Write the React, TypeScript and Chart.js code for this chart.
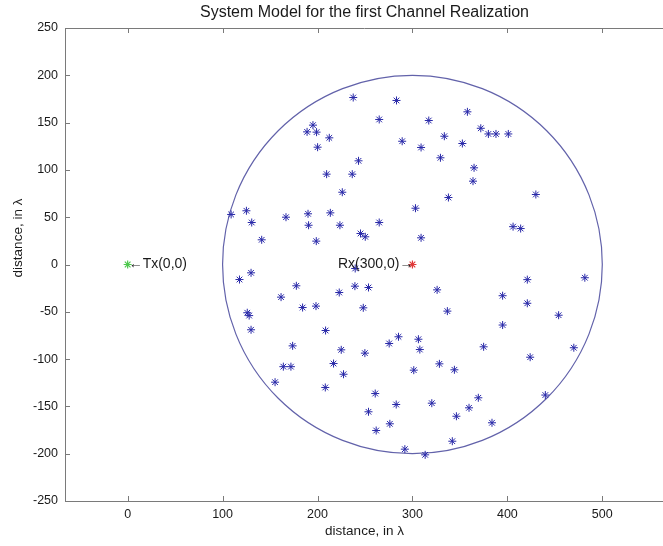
import React, { useEffect, useRef } from "react";
import { Chart, registerables } from "chart.js";

Chart.register(...registerables);

const TITLE = "System Model for the first Channel Realization";
const X_LABEL = "distance, in λ";
const Y_LABEL = "distance, in λ";
const X_MIN = -66;
const X_MAX = 565;
const Y_MIN = -250;
const Y_MAX = 250;
const X_TICKS = [0, 100, 200, 300, 400, 500];
const Y_TICKS = [-250, -200, -150, -100, -50, 0, 50, 100, 150, 200, 250];

const SCATTER_X = [
  237.6, 283.2, 357.9, 265, 317.2, 195.2, 189, 199, 212.4, 200.1,
  289.2, 309.1, 333.6, 352.6, 329.5, 243.2, 209.6, 236.6, 364.9, 363.8,
  226.1, 303.2, 337.9, 166.8, 190, 213.5, 190.6, 223.6, 265, 109,
  125.1, 130.7, 141.2, 130, 117.8, 177.7, 161.6, 126, 128, 130,
  173.8, 164, 172, 245.3, 250.3, 198.7, 309.1, 239.7, 222.9, 239.4,
  253.7, 326, 184.3, 198.4, 248.2, 336.8, 208.5, 225, 249.9, 275.5,
  285.3, 306.3, 307.8, 375, 216.9, 328.4, 301.4, 155.3, 208.2, 227.4,
  344.2, 260.8, 253.7, 282.9, 320.4, 369.4, 359.6, 346.3, 383.8, 276.2,
  261.8, 342, 292, 313.4, 481.6, 454, 470, 430, 406, 414,
  421, 421, 395, 395, 424, 440, 372, 380, 388, 401,
];
const SCATTER_Y = [
  176.5, 173.4, 161.4, 153.3, 152.2, 147.3, 140.2, 139.9, 133.9, 124,
  130.3, 123.7, 135.6, 127.9, 112.8, 109.6, 95.5, 95.5, 102.2, 88.1,
  76.4, 59.5, 70.8, 50, 53.6, 54.6, 41.5, 41.5, 44.4, 52.9,
  56.8, 44.4, 26.1, -8.8, -15.9, -22.5, -34.5, -51, -54, -69,
  -86, -108, -108, 32.8, 29.3, 24.7, 28.2, -4.2, -29.6, -22.9,
  -24.3, -26.8, -45.5, -44, -45.8, -49.3, -69.8, -90.2, -93.7, -83.5,
  -76.4, -79, -89.9, -87, -104.7, -105, -111.7, -124.4, -130, -116,
  -111.3, -136.4, -155.7, -148, -146.6, -140.9, -151.5, -160.4, -167.3, -168.4,
  -175.5, -186.8, -195.2, -201.2, -14, -53.6, -88, 74, 40, 38,
  -16, -41, -33, -64, -98, -138, 144, 138, 138, 138,
];

const TX_POS = [0, 0];
const RX_POS = [300, 0];
const TX_LABEL = "\u2190Tx(0,0)";
const RX_LABEL = "Rx(300,0)\u2192";
const CIRCLE_CENTER = [300, 0];
const CIRCLE_RADIUS = 200;

const FONT = "'Liberation Sans', Arial, sans-serif";
const AXIS_COLOR = "#7a7a7a";
const TEXT_COLOR = "#1a1a1a";

export default function App() {
  const canvasRef = useRef<HTMLCanvasElement | null>(null);

  useEffect(() => {
    const canvas = canvasRef.current;
    if (!canvas) return;

    const decor = {
      id: "decor",
      beforeDatasetsDraw(chart: any) {
        const { ctx, scales } = chart;
        const xs = scales.x;
        const ys = scales.y;
        const cx = xs.getPixelForValue(CIRCLE_CENTER[0]);
        const cy = ys.getPixelForValue(CIRCLE_CENTER[1]);
        const rx = Math.abs(xs.getPixelForValue(CIRCLE_CENTER[0] + CIRCLE_RADIUS) - cx);
        const ry = Math.abs(ys.getPixelForValue(CIRCLE_CENTER[1] + CIRCLE_RADIUS) - cy);
        ctx.save();
        ctx.beginPath();
        ctx.ellipse(cx, cy, rx, ry, 0, 0, Math.PI * 2);
        ctx.strokeStyle = "#6262aa";
        ctx.lineWidth = 1.2;
        ctx.stroke();
        ctx.restore();
      },
      afterDatasetsDraw(chart: any) {
        const { ctx, scales } = chart;
        const xs = scales.x;
        const ys = scales.y;
        ctx.save();
        ctx.font = `14px ${FONT}`;
        ctx.fillStyle = TEXT_COLOR;
        ctx.textBaseline = "middle";
        ctx.textAlign = "left";
        ctx.fillText(TX_LABEL, xs.getPixelForValue(TX_POS[0]) + 1, ys.getPixelForValue(TX_POS[1]));
        ctx.textAlign = "right";
        ctx.fillText(RX_LABEL, xs.getPixelForValue(RX_POS[0]) + 1, ys.getPixelForValue(RX_POS[1]));
        ctx.restore();
      },
      afterDraw(chart: any) {
        const { ctx, chartArea, scales } = chart;
        const xs = scales.x;
        const ys = scales.y;
        ctx.save();
        ctx.strokeStyle = AXIS_COLOR;
        ctx.lineWidth = 1;
        ctx.beginPath();
        ctx.moveTo(chartArea.left, chartArea.top + 0.5);
        ctx.lineTo(chartArea.right, chartArea.top + 0.5);
        ctx.stroke();
        const tl = 5;
        ctx.beginPath();
        xs.ticks.forEach((t: any) => {
          const px = Math.round(xs.getPixelForValue(t.value)) + 0.5;
          ctx.moveTo(px, chartArea.bottom);
          ctx.lineTo(px, chartArea.bottom - tl);
          ctx.moveTo(px, chartArea.top);
          ctx.lineTo(px, chartArea.top + tl);
        });
        ys.ticks.forEach((t: any) => {
          const py = Math.round(ys.getPixelForValue(t.value)) + 0.5;
          ctx.moveTo(chartArea.left, py);
          ctx.lineTo(chartArea.left + tl, py);
        });
        ctx.stroke();
        // y-axis label
        ctx.translate(18, 238);
        ctx.rotate(-Math.PI / 2);
        ctx.font = `13.5px ${FONT}`;
        ctx.fillStyle = TEXT_COLOR;
        ctx.textAlign = "center";
        ctx.textBaseline = "middle";
        ctx.fillText(Y_LABEL, 0, 0);
        ctx.restore();
      },
    };

    const chart = new Chart(canvas, {
      type: "scatter",
      data: {
        datasets: [
          {
            label: "scatterers",
            data: SCATTER_X.map((x, i) => ({ x, y: SCATTER_Y[i] })),
            pointStyle: "star",
            pointRadius: 4,
            borderColor: "#2828a8",
            backgroundColor: "#2828a8",
            borderWidth: 1,
          },
          {
            label: "Tx",
            data: [{ x: TX_POS[0], y: TX_POS[1] }],
            pointStyle: "star",
            pointRadius: 4,
            borderColor: "#4cc84c",
            backgroundColor: "#4cc84c",
            borderWidth: 1.2,
          },
          {
            label: "Rx",
            data: [{ x: RX_POS[0], y: RX_POS[1] }],
            pointStyle: "star",
            pointRadius: 4,
            borderColor: "#e03838",
            backgroundColor: "#e03838",
            borderWidth: 1.2,
          },
        ],
      },
      options: {
        responsive: false,
        animation: false,
        layout: { padding: { left: 0, top: 0, right: 16, bottom: 0 } },
        plugins: {
          legend: { display: false },
          tooltip: { enabled: false },
          title: {
            display: true,
            text: TITLE,
            fullSize: false,
            color: TEXT_COLOR,
            font: { family: FONT, size: 16, weight: "normal" },
            padding: { top: 3, bottom: 5.8 },
          },
        },
        scales: {
          x: {
            type: "linear",
            min: X_MIN,
            max: X_MAX,
            afterBuildTicks: (s: any) => {
              s.ticks = X_TICKS.map((v) => ({ value: v }));
            },
            afterFit: (s: any) => {
              s.height = 45;
            },
            grid: { display: true, drawOnChartArea: false, drawTicks: false },
            border: { display: true, color: AXIS_COLOR, width: 1 },
            ticks: { color: TEXT_COLOR, font: { family: FONT, size: 12.5 }, padding: 6, maxRotation: 0 },
            title: {
              display: true,
              text: X_LABEL,
              color: TEXT_COLOR,
              font: { family: FONT, size: 13.5 },
              padding: { top: 0, bottom: 7 },
            },
          },
          y: {
            type: "linear",
            min: Y_MIN,
            max: Y_MAX,
            afterBuildTicks: (s: any) => {
              s.ticks = Y_TICKS.map((v) => ({ value: v }));
            },
            afterFit: (s: any) => {
              s.width = 65;
            },
            grid: { display: true, drawOnChartArea: false, drawTicks: false },
            border: { display: true, color: AXIS_COLOR, width: 1 },
            ticks: { color: TEXT_COLOR, font: { family: FONT, size: 12.5 }, padding: 7 },
            title: { display: false },
          },
        },
      },
      plugins: [decor],
    });

    return () => chart.destroy();
  }, []);

  return (
    <div
      style={{
        position: "fixed",
        left: 0,
        top: 0,
        width: 663,
        height: 546,
        overflow: "hidden",
        background: "#ffffff",
      }}
    >
      <canvas ref={canvasRef} width={680} height={546} style={{ display: "block" }} />
    </div>
  );
}
